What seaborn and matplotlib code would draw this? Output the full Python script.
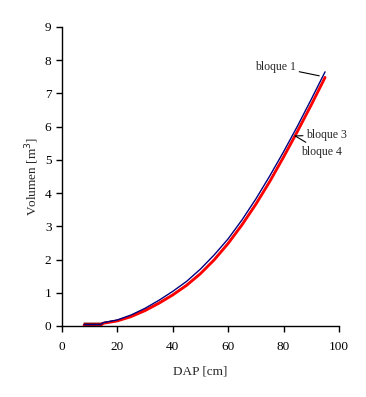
import pandas as pd
import matplotlib
matplotlib.use("Agg")
import matplotlib.pyplot as plt
import seaborn as sns

# DAP (cm) and volume (m3)
dap = [8, 14, 15, 20, 25, 30, 35, 40, 45, 50, 55, 60, 65, 70, 75, 80, 85, 90, 95]
vol_bloque1 = [0.04, 0.04, 0.10, 0.18, 0.33, 0.53, 0.77, 1.04, 1.34, 1.71, 2.14, 2.62, 3.19, 3.82, 4.51, 5.24, 6.01, 6.82, 7.65]
vol_bloque3 = [0.02, 0.02, 0.08, 0.15, 0.28, 0.46, 0.68, 0.93, 1.22, 1.57, 1.99, 2.48, 3.04, 3.66, 4.34, 5.08, 5.85, 6.65, 7.48]
vol_bloque4 = [0.08, 0.08, 0.10, 0.17, 0.30, 0.48, 0.70, 0.95, 1.24, 1.59, 2.01, 2.50, 3.06, 3.68, 4.36, 5.10, 5.87, 6.67, 7.50]

df = pd.DataFrame({"DAP": dap, "bloque 1": vol_bloque1,
                   "bloque 3": vol_bloque3, "bloque 4": vol_bloque4})

sns.set_style("ticks")
plt.rcParams["font.family"] = ["Liberation Serif", "DejaVu Serif"]
plt.rcParams["font.size"] = 9.5

fig = plt.figure(figsize=(3.66, 3.97), dpi=100)
ax = fig.add_axes([0.169, 0.179, 0.757, 0.753])

sns.lineplot(data=df, x="DAP", y="bloque 4", color="#800000", linewidth=1.0, ax=ax)
sns.lineplot(data=df, x="DAP", y="bloque 3", color="#ff0000", linewidth=2.0, ax=ax)
sns.lineplot(data=df, x="DAP", y="bloque 1", color="#000080", linewidth=1.0, ax=ax)

ax.set_xlim(0, 100)
ax.set_ylim(0, 9)
ax.set_xticks(range(0, 101, 20))
ax.set_yticks(range(0, 10))
ax.set_xlabel("DAP [cm]", fontsize=9.5, labelpad=9)
ax.set_ylabel("Volumen [m$^3$]", fontsize=9.5, labelpad=3)
ax.tick_params(direction="out", length=4, width=1, colors="black", labelsize=9.5)
ax.tick_params(axis="x", pad=7)
for s in ["left", "bottom"]:
    ax.spines[s].set_color("black")
    ax.spines[s].set_linewidth(1)
sns.despine(ax=ax)

line = dict(arrowstyle="-", color="black", lw=0.8, shrinkA=0, shrinkB=0)
ax.annotate("bloque 1", xy=(92.9, 7.53), xytext=(84.5, 7.8),
            ha="right", va="center", fontsize=8.5, arrowprops=line)
ax.annotate("bloque 3", xy=(84.2, 5.72), xytext=(88.2, 5.75),
            ha="left", va="center", fontsize=8.5, arrowprops=line)
ax.annotate("bloque 4", xy=(84.2, 5.72), xytext=(86.3, 5.25),
            ha="left", va="center", fontsize=8.5, arrowprops=line)

fig.savefig("out.png", dpi=100)
